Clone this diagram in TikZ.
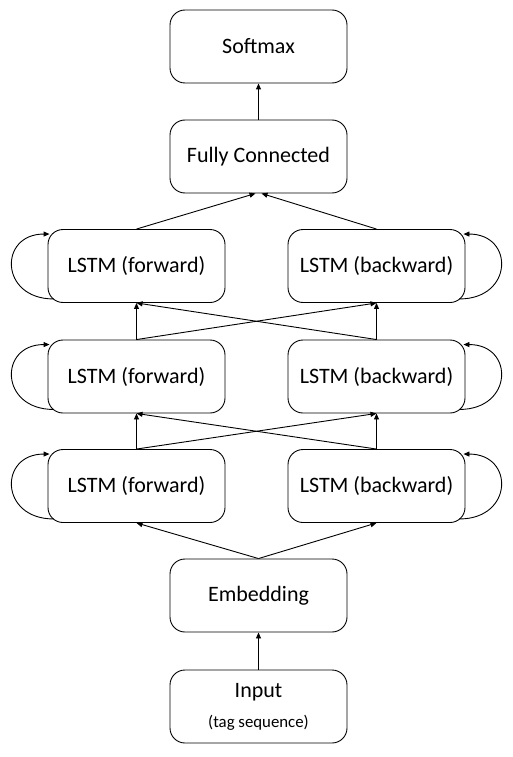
\documentclass[tikz,border=0pt]{standalone}
\usepackage{fontspec}
\setmainfont{Carlito}
\usetikzlibrary{arrows.meta,calc}
\begin{document}
\begin{tikzpicture}[x=1pt,y=-1pt,
  box/.style={draw,line width=0.9pt,rounded corners=15pt,minimum width=177pt,minimum height=73pt,inner sep=0pt,font=\fontsize{22}{26}\selectfont,align=center},
  conn/.style={line width=0.9pt,-{Triangle[length=6pt,width=5pt]}}]
\useasboundingbox (0,0) rectangle (512,757);
\node[box] (sm) at (258.5,46.5) {Softmax};
\node[box] (fc) at (258.5,156.5) {Fully Connected};
\node[box] (f1) at (136.5,266) {LSTM (forward)};
\node[box] (b1) at (376.5,266) {LSTM (backward)};
\node[box] (f2) at (136.5,376.5) {LSTM (forward)};
\node[box] (b2) at (376.5,376.5) {LSTM (backward)};
\node[box] (f3) at (136.5,486) {LSTM (forward)};
\node[box] (b3) at (376.5,486) {LSTM (backward)};
\node[box] (em) at (258.5,595.5) {Embedding};
\node[box] (in) at (258.5,706.5) {Input\\[4pt]{\fontsize{16.8}{19}\selectfont (tag sequence)}};
% vertical arrows
\draw[conn] (in.north) -- (em.south);
\draw[conn] (fc.north) -- (sm.south);
% embedding to row 3
\draw[conn] (em.north) -- (f3.south);
\draw[conn] (em.north) -- (b3.south);
% row 3 to row 2
\draw[conn] (f3.north) -- (f2.south);
\draw[conn] (f3.north) -- (b2.south);
\draw[conn] (b3.north) -- (b2.south);
\draw[conn] (b3.north) -- (f2.south);
% row 2 to row 1
\draw[conn] (f2.north) -- (f1.south);
\draw[conn] (f2.north) -- (b1.south);
\draw[conn] (b2.north) -- (b1.south);
\draw[conn] (b2.north) -- (f1.south);
% row 1 to fc
\coordinate (fcl) at ($(fc.south)+(-3,0)$);
\coordinate (fcr) at ($(fc.south)+(3,0)$);
\draw[conn] (f1.north) -- (fcl);
\draw[conn] (b1.north) -- (fcr);
% self loops
\foreach \n in {f1,f2,f3}{
  \coordinate (\n a) at ($(\n.south west)+(6,-4)$);
  \coordinate (\n b) at ($(\n.north west)+(2,5)$);
  \draw[conn] (\n a) .. controls ($(\n a)+(-54,0)$) and ($(\n b)+(-51,0)$) .. (\n b);
}
\foreach \n in {b1,b2,b3}{
  \coordinate (\n a) at ($(\n.south east)+(-6,-4)$);
  \coordinate (\n b) at ($(\n.north east)+(-2,5)$);
  \draw[conn] (\n a) .. controls ($(\n a)+(54,0)$) and ($(\n b)+(51,0)$) .. (\n b);
}
\end{tikzpicture}
\end{document}
